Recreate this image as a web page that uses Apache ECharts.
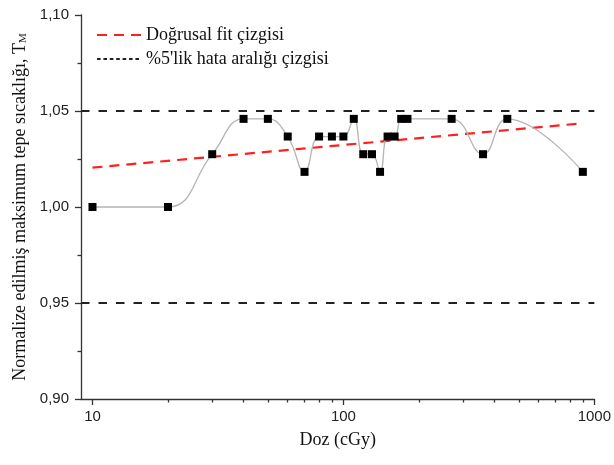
<!DOCTYPE html>
<html>
<head>
<meta charset="utf-8">
<script src="https://cdn.jsdelivr.net/npm/echarts@6/dist/echarts.min.js"></script>
<style>html,body{margin:0;padding:0;background:#fff}#c{width:614px;height:465px}</style>
</head>
<body>
<div id="c"></div>
<script>
// Dose (cGy) and normalized maximum peak temperature
const doseValues = [10, 20, 30, 40, 50, 60, 70, 80, 90, 100, 110, 120, 130, 140, 150, 160, 170, 180, 270, 360, 450, 900];
const tmValues = [1.0000, 1.0000, 1.0275, 1.0459, 1.0459, 1.0367, 1.0183, 1.0367, 1.0367, 1.0367, 1.0459, 1.0275, 1.0275, 1.0183, 1.0367, 1.0367, 1.0459, 1.0459, 1.0459, 1.0275, 1.0459, 1.0183];
// Linear fit (straight on log axis) end points
const fitX = [10, 900];
const fitY = [1.0205, 1.0436];
// ±5% error band lines
const errorLevels = [1.05, 0.95];
// Axis ticks
const xMajorTicks = [10, 100, 1000];
const xMinorTicks = [20, 30, 40, 50, 60, 70, 80, 90, 200, 300, 400, 500, 600, 700, 800, 900];
const yTicks = [0.90, 0.95, 1.00, 1.05, 1.10];
const legendNames = ['Doğrusal fit çizgisi', "%5'lik hata aralığı çizgisi"];

const serif = "'Liberation Serif', 'Times New Roman', serif";
const sans = "'Liberation Sans', Arial, sans-serif";
const axisCol = '#333';

const chart = echarts.init(document.getElementById('c'), null, {renderer: 'canvas'});
chart.setOption({
  animation: false,
  backgroundColor: '#fff',
  grid: {left: 81, right: 17, top: 15, bottom: 66, containLabel: false},
  legend: {
    orient: 'vertical', left: 96, top: 26, padding: 0,
    itemWidth: 44, itemHeight: 14, itemGap: 6,
    textStyle: {fontFamily: serif, fontSize: 18, color: '#111'},
    itemStyle: {opacity: 0},
    data: legendNames
  },
  xAxis: [{
    type: 'log', logBase: 10, min: 9, max: 1000,
    name: 'Doz (cGy)', nameLocation: 'middle', nameGap: 32,
    nameTextStyle: {fontFamily: serif, fontSize: 18, color: '#111'},
    axisLine: {show: true, lineStyle: {color: axisCol, width: 1.3}},
    axisTick: {show: true, inside: false, length: 6, customValues: xMajorTicks, lineStyle: {color: axisCol, width: 1.3}},
    axisLabel: {customValues: xMajorTicks, margin: 10, fontFamily: sans, fontSize: 15, color: '#222',
      formatter: v => String(Math.round(v))},
    splitLine: {show: false}
  }, {
    type: 'log', logBase: 10, min: 9, max: 1000, position: 'bottom',
    axisLine: {show: false},
    axisTick: {show: true, inside: false, length: 3.5, customValues: xMinorTicks, lineStyle: {color: axisCol, width: 1.3}},
    axisLabel: {show: false},
    splitLine: {show: false}
  }],
  yAxis: {
    type: 'value', min: 0.9, max: 1.1, interval: 0.05,
    name: 'Normalize edilmiş maksimum tepe sıcaklığı, T{sub|M}',
    nameLocation: 'middle', nameGap: 51,
    nameTextStyle: {fontFamily: serif, fontSize: 18, color: '#111',
      rich: {sub: {fontFamily: serif, fontSize: 11, color: '#111', verticalAlign: 'bottom', padding: [6, 0, 0, 0]}}},
    axisLine: {show: true, lineStyle: {color: axisCol, width: 1.3}},
    axisTick: {show: true, inside: false, length: 6, lineStyle: {color: axisCol, width: 1.3}},
    minorTick: {show: true, splitNumber: 2, length: 3.5, lineStyle: {color: axisCol, width: 1.3}},
    axisLabel: {margin: 12, fontFamily: sans, fontSize: 15, color: '#222',
      formatter: v => yTicks.some(t => Math.abs(t - v) < 1e-9) ? v.toFixed(2).replace('.', ',') : ''},
    splitLine: {show: false}
  },
  series: [
    {
      name: legendNames[1], type: 'line', data: [], symbol: 'none',
      itemStyle: {color: '#222'},
      lineStyle: {color: '#222', width: 1.6, type: [3.6, 2.8]},
      markLine: {
        silent: true, symbol: 'none', label: {show: false},
        lineStyle: {color: '#222', width: 2, type: [8.5, 9]},
        data: errorLevels.map(v => ({yAxis: v}))
      },
      z: 1
    },
    {
      name: legendNames[0], type: 'line', symbol: 'none',
      data: fitX.map((x, i) => [x, fitY[i]]),
      itemStyle: {color: '#ff1f1f'},
      lineStyle: {color: '#ff1f1f', width: 2.2, type: [10, 7]},
      z: 2
    },
    {
      name: 'veri', type: 'line', smooth: 0.45,
      data: doseValues.map((x, i) => [x, tmValues[i]]),
      symbol: 'rect', symbolSize: 8,
      itemStyle: {color: '#000'},
      lineStyle: {color: '#b4b4b4', width: 1.3},
      z: 3
    }
  ]
});
</script>
</body>
</html>
